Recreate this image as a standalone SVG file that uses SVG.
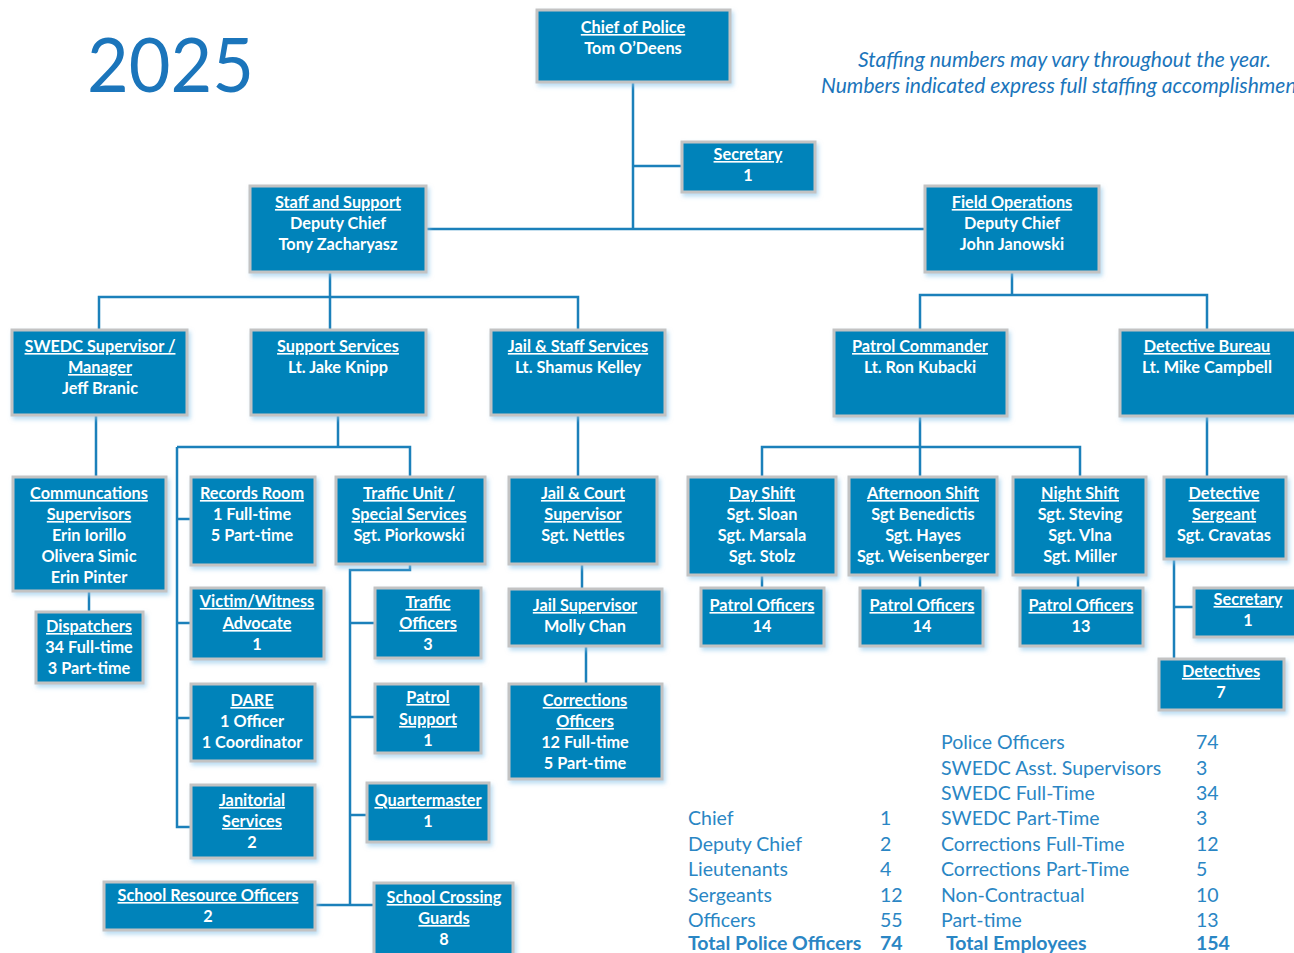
<svg xmlns="http://www.w3.org/2000/svg" width="1294" height="953" viewBox="0 0 1294 953">
<defs>
<filter id="sh" x="-10%" y="-10%" width="130%" height="140%">
<feDropShadow dx="2" dy="3" stdDeviation="2" flood-color="#8cc6ea" flood-opacity="0.6"/>
</filter>
<style>
.b{fill:#0683ba;stroke:#c3c3c3;stroke-width:3;filter:url(#sh)}
.t{font-family:Lato,"Liberation Sans",sans-serif;font-weight:bold;font-size:16.3px;fill:#fff;text-anchor:middle}
.u{text-decoration:underline}
.c{fill:none;stroke:#1b80ba;stroke-width:2.5}
.s{font-family:Lato,"Liberation Sans",sans-serif;font-size:19.5px;fill:#2a86c4}
.sb{font-weight:bold}
</style>
</defs>
<rect width="1294" height="953" fill="#fff"/>
<text x="87" y="92" font-family="Lato,'Liberation Sans',sans-serif" font-size="76" fill="#1b75bb" textLength="167" lengthAdjust="spacingAndGlyphs">2025</text>
<g font-family="Lato,'Liberation Sans',sans-serif" font-style="italic" font-size="21" fill="#1b75bb">
<text x="1271" y="67" text-anchor="end">Staffing numbers may vary throughout the year.</text>
<text x="821" y="93">Numbers indicated express full staffing accomplishmen</text>
</g>
<g id="connectors" class="c">
<path class="c" d="M633 82V229M426 229H925M633 166H682"/>
<path class="c" d="M330 272V297M99 330V297H578V330M330 297V330"/>
<path class="c" d="M1012 272V295M920 330V295H1207V330"/>
<path class="c" d="M96 415V477M89 591V612"/>
<path class="c" d="M338 415V447M177 447H410V477M177 447V827H191M177 519H191M177 623H191M177 718H191"/>
<path class="c" d="M410 564V570H350V905M350 623H375M350 717H375M350 815H367M315 905H374"/>
<path class="c" d="M578 415V477M582 564V589M586 646V684"/>
<path class="c" d="M920 416V477M762 477V447H1080V477M762 575V588M920 575V588M1078 575V588"/>
<path class="c" d="M1207 416V477M1174 559V659M1174 607H1194"/>
</g>
<g id="chief"><rect class="b" x="537" y="10" width="193" height="72"/><text class="t" x="633" y="33"><tspan class="u">Chief of Police</tspan><tspan x="633" y="54">Tom O’Deens</tspan></text></g>
<g id="secretary1"><rect class="b" x="682" y="142" width="133" height="50"/><text class="t" x="748" y="160"><tspan class="u">Secretary</tspan><tspan x="748" y="181">1</tspan></text></g>
<g id="staff"><rect class="b" x="250" y="186" width="176" height="86"/><text class="t" x="338" y="208"><tspan class="u">Staff and Support</tspan><tspan x="338" y="229">Deputy Chief</tspan><tspan x="338" y="250">Tony Zacharyasz</tspan></text></g>
<g id="field"><rect class="b" x="925" y="186" width="174" height="86"/><text class="t" x="1012" y="208"><tspan class="u">Field Operations</tspan><tspan x="1012" y="229">Deputy Chief</tspan><tspan x="1012" y="250">John Janowski</tspan></text></g>
<g id="swedc"><rect class="b" x="12" y="330" width="175" height="85"/><text class="t" x="100" y="352"><tspan class="u">SWEDC Supervisor /</tspan><tspan class="u" x="100" y="373">Manager</tspan><tspan x="100" y="394">Jeff Branic</tspan></text></g>
<g id="support"><rect class="b" x="251" y="330" width="175" height="85"/><text class="t" x="338" y="352"><tspan class="u">Support Services</tspan><tspan x="338" y="373">Lt. Jake Knipp</tspan></text></g>
<g id="jailstaff"><rect class="b" x="491" y="330" width="174" height="85"/><text class="t" x="578" y="352"><tspan class="u">Jail &amp; Staff Services</tspan><tspan x="578" y="373">Lt. Shamus Kelley</tspan></text></g>
<g id="patrolcmd"><rect class="b" x="834" y="330" width="173" height="86"/><text class="t" x="920" y="352"><tspan class="u">Patrol Commander</tspan><tspan x="920" y="373">Lt. Ron Kubacki</tspan></text></g>
<g id="detbureau"><rect class="b" x="1120" y="330" width="180" height="86"/><text class="t" x="1207" y="352"><tspan class="u">Detective Bureau</tspan><tspan x="1207" y="373">Lt. Mike Campbell</tspan></text></g>
<g id="commsup"><rect class="b" x="13" y="477" width="153" height="114"/><text class="t" x="89" y="499"><tspan class="u">Communcations</tspan><tspan class="u" x="89" y="520">Supervisors</tspan><tspan x="89" y="541">Erin Iorillo</tspan><tspan x="89" y="562">Olivera Simic</tspan><tspan x="89" y="583">Erin Pinter</tspan></text></g>
<g id="dispatchers"><rect class="b" x="36" y="612" width="107" height="71"/><text class="t" x="89" y="632"><tspan class="u">Dispatchers</tspan><tspan x="89" y="653">34 Full-time</tspan><tspan x="89" y="674">3 Part-time</tspan></text></g>
<g id="records"><rect class="b" x="191" y="477" width="124" height="88"/><text class="t" x="252" y="499"><tspan class="u">Records Room</tspan><tspan x="252" y="520">1 Full-time</tspan><tspan x="252" y="541">5 Part-time</tspan></text></g>
<g id="victim"><rect class="b" x="191" y="588" width="133" height="71"/><text class="t" x="257" y="607"><tspan class="u">Victim/Witness</tspan><tspan class="u" x="257" y="629">Advocate</tspan><tspan x="257" y="650">1</tspan></text></g>
<g id="dare"><rect class="b" x="191" y="684" width="124" height="77"/><text class="t" x="252" y="706"><tspan class="u">DARE</tspan><tspan x="252" y="727">1 Officer</tspan><tspan x="252" y="748">1 Coordinator</tspan></text></g>
<g id="janitorial"><rect class="b" x="191" y="785" width="124" height="73"/><text class="t" x="252" y="806"><tspan class="u">Janitorial</tspan><tspan class="u" x="252" y="827">Services</tspan><tspan x="252" y="848">2</tspan></text></g>
<g id="trafficunit"><rect class="b" x="336" y="477" width="149" height="87"/><text class="t" x="409" y="499"><tspan class="u">Traffic Unit /</tspan><tspan class="u" x="409" y="520">Special Services</tspan><tspan x="409" y="541">Sgt. Piorkowski</tspan></text></g>
<g id="trafficoff"><rect class="b" x="375" y="588" width="106" height="70"/><text class="t" x="428" y="608"><tspan class="u">Traffic</tspan><tspan class="u" x="428" y="629">Officers</tspan><tspan x="428" y="650">3</tspan></text></g>
<g id="patrolsup"><rect class="b" x="375" y="684" width="106" height="69"/><text class="t" x="428" y="703"><tspan class="u">Patrol</tspan><tspan class="u" x="428" y="725">Support</tspan><tspan x="428" y="746">1</tspan></text></g>
<g id="quartermaster"><rect class="b" x="367" y="783" width="122" height="59"/><text class="t" x="428" y="806"><tspan class="u">Quartermaster</tspan><tspan x="428" y="827">1</tspan></text></g>
<g id="sro"><rect class="b" x="104" y="882" width="211" height="48"/><text class="t" x="208" y="901"><tspan class="u">School Resource Officers</tspan><tspan x="208" y="922">2</tspan></text></g>
<g id="scg"><rect class="b" x="374" y="883" width="139" height="75"/><text class="t" x="444" y="903"><tspan class="u">School Crossing</tspan><tspan class="u" x="444" y="924">Guards</tspan><tspan x="444" y="945">8</tspan></text></g>
<g id="jailcourt"><rect class="b" x="509" y="477" width="148" height="87"/><text class="t" x="583" y="499"><tspan class="u">Jail &amp; Court</tspan><tspan class="u" x="583" y="520">Supervisor</tspan><tspan x="583" y="541">Sgt. Nettles</tspan></text></g>
<g id="jailsup"><rect class="b" x="509" y="589" width="153" height="57"/><text class="t" x="585" y="611"><tspan class="u">Jail Supervisor</tspan><tspan x="585" y="632">Molly Chan</tspan></text></g>
<g id="corrections"><rect class="b" x="509" y="684" width="153" height="95"/><text class="t" x="585" y="706"><tspan class="u">Corrections</tspan><tspan class="u" x="585" y="727">Officers</tspan><tspan x="585" y="748">12 Full-time</tspan><tspan x="585" y="769">5 Part-time</tspan></text></g>
<g id="dayshift"><rect class="b" x="688" y="477" width="148" height="98"/><text class="t" x="762" y="499"><tspan class="u">Day Shift</tspan><tspan x="762" y="520">Sgt. Sloan</tspan><tspan x="762" y="541">Sgt. Marsala</tspan><tspan x="762" y="562">Sgt. Stolz</tspan></text></g>
<g id="afternoon"><rect class="b" x="849" y="477" width="148" height="98"/><text class="t" x="923" y="499"><tspan class="u">Afternoon Shift</tspan><tspan x="923" y="520">Sgt Benedictis</tspan><tspan x="923" y="541">Sgt. Hayes</tspan><tspan x="923" y="562">Sgt. Weisenberger</tspan></text></g>
<g id="night"><rect class="b" x="1013" y="477" width="133" height="98"/><text class="t" x="1080" y="499"><tspan class="u">Night Shift</tspan><tspan x="1080" y="520">Sgt. Steving</tspan><tspan x="1080" y="541">Sgt. Vlna</tspan><tspan x="1080" y="562">Sgt. Miller</tspan></text></g>
<g id="po1"><rect class="b" x="701" y="588" width="123" height="58"/><text class="t" x="762" y="611"><tspan class="u">Patrol Officers</tspan><tspan x="762" y="632">14</tspan></text></g>
<g id="po2"><rect class="b" x="860" y="588" width="123" height="58"/><text class="t" x="922" y="611"><tspan class="u">Patrol Officers</tspan><tspan x="922" y="632">14</tspan></text></g>
<g id="po3"><rect class="b" x="1020" y="588" width="123" height="58"/><text class="t" x="1081" y="611"><tspan class="u">Patrol Officers</tspan><tspan x="1081" y="632">13</tspan></text></g>
<g id="detsgt"><rect class="b" x="1164" y="477" width="122" height="82"/><text class="t" x="1224" y="499"><tspan class="u">Detective</tspan><tspan class="u" x="1224" y="520">Sergeant</tspan><tspan x="1224" y="541">Sgt. Cravatas</tspan></text></g>
<g id="secretary2"><rect class="b" x="1194" y="588" width="110" height="49"/><text class="t" x="1248" y="605"><tspan class="u">Secretary</tspan><tspan x="1248" y="626">1</tspan></text></g>
<g id="detectives"><rect class="b" x="1159" y="659" width="125" height="51"/><text class="t" x="1221" y="677"><tspan class="u">Detectives</tspan><tspan x="1221" y="698">7</tspan></text></g>
<g id="stats" class="s">
<text class="s" x="688" y="825">Chief</text><text class="s" x="880" y="825">1</text>
<text class="s" x="688" y="851">Deputy Chief</text><text class="s" x="880" y="851">2</text>
<text class="s" x="688" y="876">Lieutenants</text><text class="s" x="880" y="876">4</text>
<text class="s" x="688" y="902">Sergeants</text><text class="s" x="880" y="902">12</text>
<text class="s" x="688" y="927">Officers</text><text class="s" x="880" y="927">55</text>
<text class="s sb" x="688" y="950">Total Police Officers</text><text class="s sb" x="880" y="950">74</text>
<text class="s" x="941" y="749">Police Officers</text><text class="s" x="1196" y="749">74</text>
<text class="s" x="941" y="775">SWEDC Asst. Supervisors</text><text class="s" x="1196" y="775">3</text>
<text class="s" x="941" y="800">SWEDC Full-Time</text><text class="s" x="1196" y="800">34</text>
<text class="s" x="941" y="825">SWEDC Part-Time</text><text class="s" x="1196" y="825">3</text>
<text class="s" x="941" y="851">Corrections Full-Time</text><text class="s" x="1196" y="851">12</text>
<text class="s" x="941" y="876">Corrections Part-Time</text><text class="s" x="1196" y="876">5</text>
<text class="s" x="941" y="902">Non-Contractual</text><text class="s" x="1196" y="902">10</text>
<text class="s" x="941" y="927">Part-time</text><text class="s" x="1196" y="927">13</text>
<text class="s sb" x="946" y="950">Total Employees</text><text class="s sb" x="1196" y="950">154</text>
</g>
</svg>
